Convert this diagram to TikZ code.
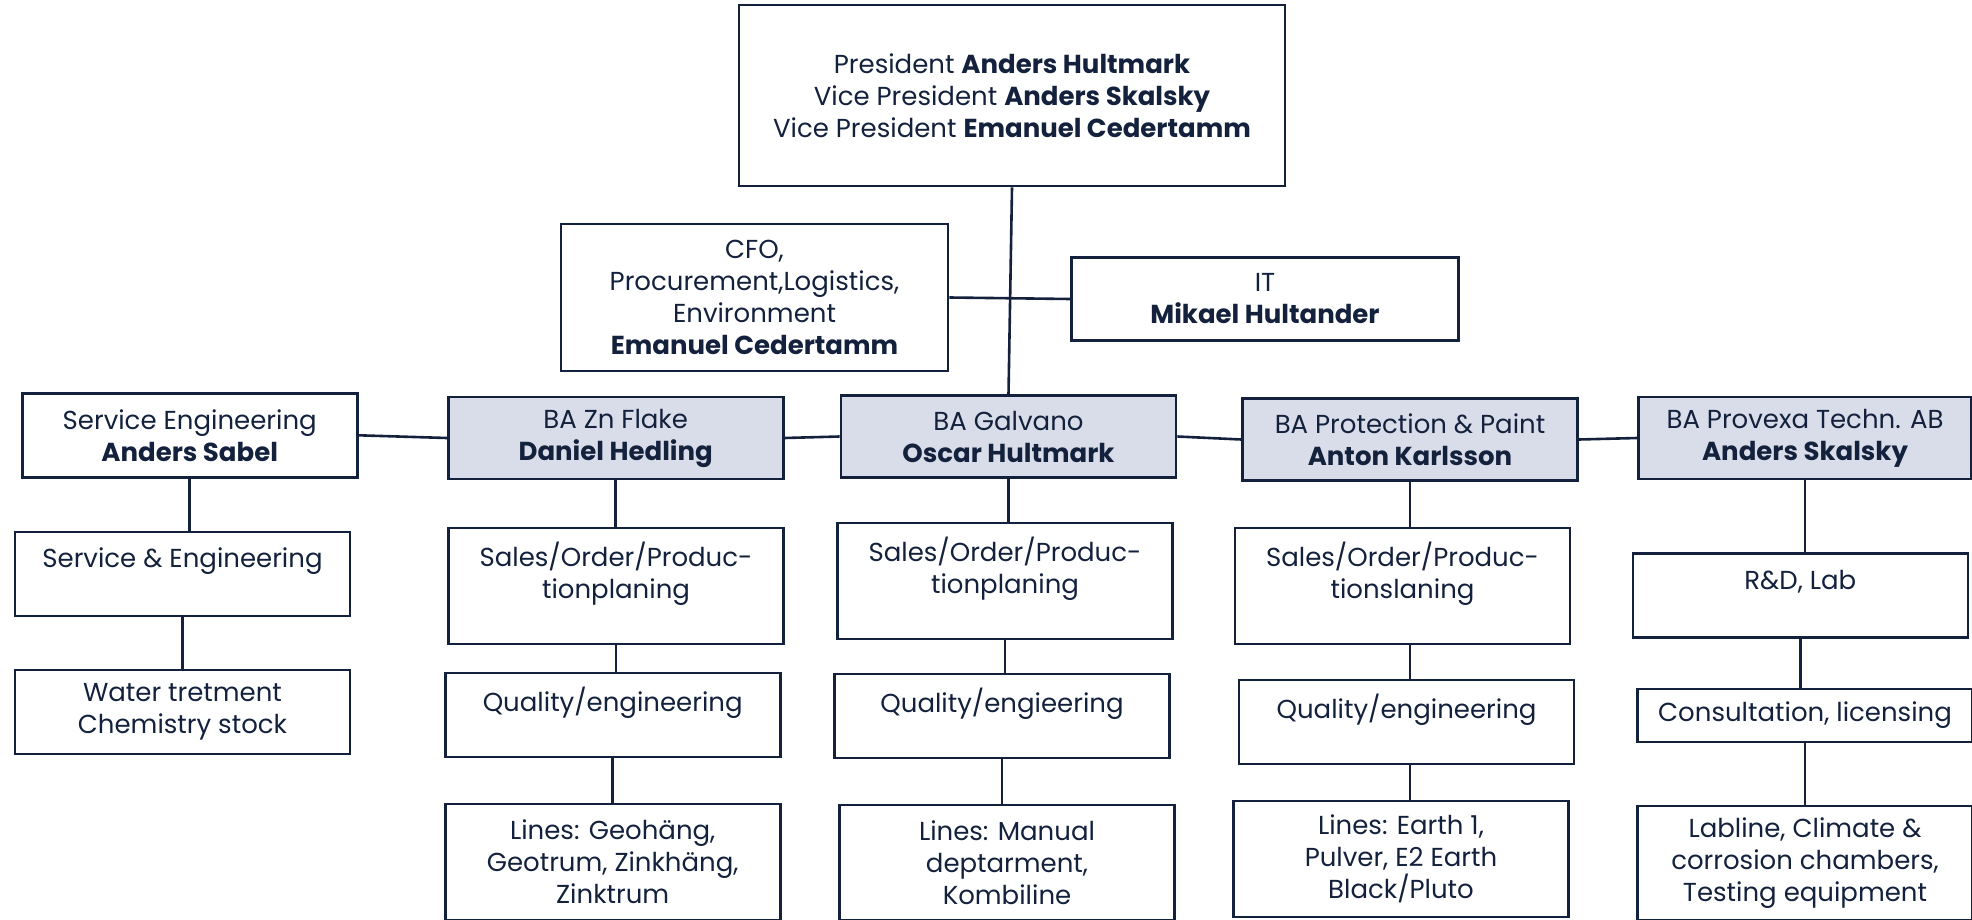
\documentclass[tikz,border=0pt]{standalone}
\usepackage{fontspec}
\setmainfont{Poppins}
\definecolor{navy}{HTML}{14213D}
\definecolor{bafill}{HTML}{D9DDE9}

\begin{document}
\begin{tikzpicture}[x=1pt, y=-1pt,
	unit/.style={rectangle, draw=navy, line width=2.6pt, text=navy, align=center, minimum width=335pt, inner sep=0pt, font=\fontsize{26}{32}\selectfont},
	ba/.style={unit, fill=bafill, minimum height=82pt},
	link/.style={draw=navy, line width=2.6pt}]

	\useasboundingbox (0,0) rectangle (1972,920);

	% top management
	\node[unit, minimum width=546pt, minimum height=181pt] (board) at (1012,95.5) {President \textbf{Anders Hultmark}\\Vice President \textbf{Anders Skalsky}\\Vice President \textbf{Emanuel Cedertamm}};
	\node[unit, minimum width=387pt, minimum height=147pt] (cfo) at (754.5,297.5) {CFO,\\Procurement,Logistics,\\Environment\\\textbf{Emanuel Cedertamm}};
	\node[unit, minimum width=387pt, minimum height=83pt] (it) at (1265,299) {IT\\\textbf{Mikael Hultander}};

	% business areas
	\node[unit, minimum height=84pt] (service) at (189.7,435.3) {Service Engineering\\\textbf{Anders Sabel}};
	\node[ba] (flake) at (615.7,438) {BA Zn Flake\\\textbf{Daniel Hedling}};
	\node[ba] (galvano) at (1008.5,436.5) {BA Galvano\\\textbf{Oscar Hultmark}};
	\node[ba] (paint) at (1410,439.5) {BA Protection \& Paint\\\textbf{Anton Karlsson}};
	\node[ba, minimum width=333pt] (provexa) at (1805,438) {BA Provexa Techn. AB\\\textbf{Anders Skalsky}};

	% service engineering
	\node[unit, minimum height=84pt] (serveng) at (182.5,574) {Service \& Engineering\\\mbox{}};
	\node[unit, minimum height=84pt] (water) at (182.5,712) {Water tretment\\Chemistry stock};

	% zn flake
	\node[unit, minimum height=116pt] (flakesales) at (616,586) {Sales/Order/Produc-\\tionplaning\\\mbox{}};
	\node[unit, minimum height=84pt] (flakequal) at (612.7,715) {Quality/engineering\\\mbox{}};
	\node[unit, minimum height=116pt] (flakelines) at (612.7,862) {Lines: Geohäng,\\Geotrum, Zinkhäng,\\Zinktrum};

	% galvano
	\node[unit, minimum height=116pt] (galvsales) at (1005,581) {Sales/Order/Produc-\\tionplaning\\\mbox{}};
	\node[unit, minimum height=84pt] (galvqual) at (1002,716) {Quality/engieering\\\mbox{}};
	\node[unit, minimum height=115pt] (galvlines) at (1007,862.5) {Lines: Manual\\deptarment,\\Kombiline};

	% protection & paint
	\node[unit, minimum height=116pt] (paintsales) at (1402.5,586) {Sales/Order/Produc-\\tionslaning\\\mbox{}};
	\node[unit, minimum height=84pt] (paintqual) at (1406.5,721.8) {Quality/engineering\\\mbox{}};
	\node[unit, minimum height=116pt] (paintlines) at (1401,859) {Lines: Earth 1,\\Pulver, E2 Earth\\Black/Pluto};

	% provexa
	\node[unit, minimum height=84pt] (lab) at (1800.3,595.5) {R\&D, Lab\\\mbox{}};
	\node[unit, minimum height=53pt] (consult) at (1805,715.6) {Consultation, licensing};
	\node[unit, minimum height=114pt] (labline) at (1805,863) {Labline, Climate \&\\corrosion chambers,\\Testing equipment};

	% connectors
	\draw[link] (board.south) -- (galvano.north);
	\draw[link] (cfo.east) -- (it.west);
	\draw[link] (service.east) -- (flake.west);
	\draw[link] (flake.east) -- (galvano.west);
	\draw[link] (galvano.east) -- (paint.west);
	\draw[link] (paint.east) -- (provexa.west);

	\draw[link] (service.south) -- (service.south |- serveng.north);
	\draw[link] (serveng.south) -- (serveng.south |- water.north);

	\draw[link] (flake.south) -- (flake.south |- flakesales.north);
	\draw[link] (flakesales.south) -- (flakesales.south |- flakequal.north);
	\draw[link] (flakequal.south) -- (flakequal.south |- flakelines.north);

	\draw[link] (galvano.south) -- (galvano.south |- galvsales.north);
	\draw[link] (galvsales.south) -- (galvsales.south |- galvqual.north);
	\draw[link] (galvqual.south) -- (galvqual.south |- galvlines.north);

	\draw[link] (paint.south) -- (paint.south |- paintsales.north);
	\draw[link] (paint.south |- paintsales.south) -- (paint.south |- paintqual.north);
	\draw[link] (paint.south |- paintqual.south) -- (paint.south |- paintlines.north);

	\draw[link] (provexa.south) -- (provexa.south |- lab.north);
	\draw[link] (lab.south) -- (lab.south |- consult.north);
	\draw[link] (consult.south) -- (consult.south |- labline.north);
\end{tikzpicture}
\end{document}
